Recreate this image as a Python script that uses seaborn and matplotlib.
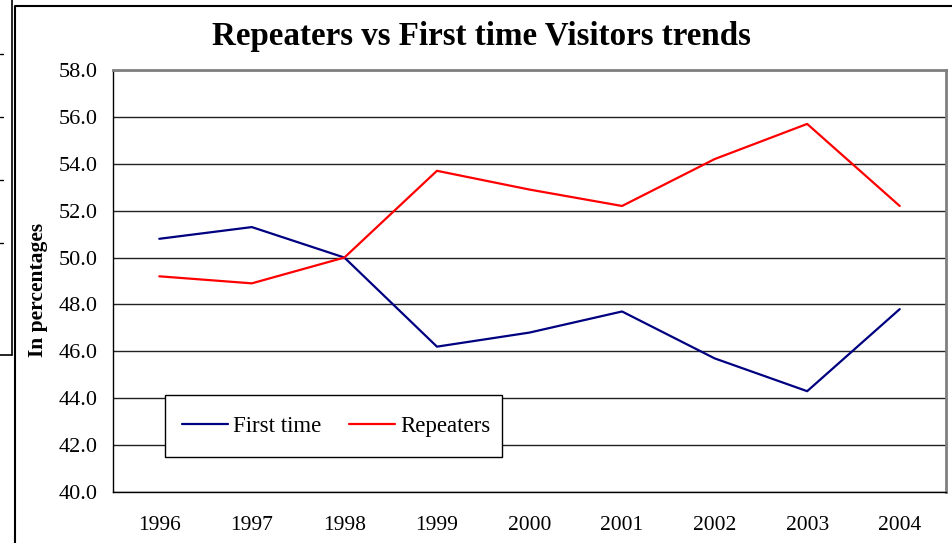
import pandas as pd
import seaborn as sns
import numpy as np
import matplotlib.pyplot as plt
from matplotlib.lines import Line2D
from matplotlib.patches import Rectangle
from matplotlib.ticker import MultipleLocator, FixedLocator

# Values (percentages)
years = ["1996", "1997", "1998", "1999", "2000", "2001", "2002", "2003", "2004"]
first_time = [50.8, 51.3, 50.0, 46.2, 46.8, 47.7, 45.7, 44.3, 47.8]
repeaters = [49.2, 48.9, 50.0, 53.7, 52.9, 52.2, 54.2, 55.7, 52.2]

df = pd.DataFrame({
    "year": years * 2,
    "value": first_time + repeaters,
    "series": ["First time"] * len(years) + ["Repeaters"] * len(years),
})

sns.set_style("white")
plt.rcParams["font.family"] = ["Liberation Serif", "DejaVu Serif"]
plt.rcParams["text.color"] = "black"
plt.rcParams["xtick.color"] = "black"
plt.rcParams["ytick.color"] = "black"
plt.rcParams["axes.labelcolor"] = "black"

W, H = 953, 543
fig = plt.figure(figsize=(W / 100, H / 100), dpi=100)
ax = fig.add_axes([113 / W, 1 - 492 / H, (946 - 113) / W, (492 - 70) / H])

sns.lineplot(data=df, x="year", y="value", hue="series",
             palette={"First time": "#000080", "Repeaters": "#ff0000"},
             linewidth=1.6, ax=ax, sort=False)

ax.set_xlim(-0.5, len(years) - 0.5)
ax.set_ylim(40, 58)
ax.yaxis.set_major_locator(MultipleLocator(2))
ax.yaxis.set_major_formatter(lambda v, p: f"{v:.1f}")
ax.xaxis.set_minor_locator(FixedLocator(np.arange(-0.5, len(years), 1)))
ax.tick_params(axis="x", which="major", length=0, labelsize=15.5, pad=17)
ax.tick_params(axis="x", which="minor", length=6, width=1, direction="out", color="black")
ax.tick_params(axis="y", length=6, width=1, direction="out", color="black", labelsize=16, pad=5)
ax.yaxis.grid(True, color="#222222", linewidth=1)
ax.set_axisbelow(True)

for side in ["left", "bottom"]:
    ax.spines[side].set_color("black")
    ax.spines[side].set_linewidth(1)
for side in ["top", "right"]:
    ax.spines[side].set_color("#808080")
    ax.spines[side].set_linewidth(2)

ax.set_xlabel("")
ax.set_ylabel("In percentages", fontsize=15.5, fontweight="bold")
ax.yaxis.set_label_coords(-0.078, 0.479)

# legend box (white, black edge) drawn separately so its size matches
box = (52 / 833, 35 / 422, 337 / 833, 62 / 422)
ax.add_patch(Rectangle(box[:2], box[2], box[3], transform=ax.transAxes,
                       facecolor="white", edgecolor="black", linewidth=1, zorder=4))
leg = ax.legend(loc="center", bbox_to_anchor=(55 / 833, 35 / 422, 337 / 833, 62 / 422),
                ncol=2, fontsize=16.5, frameon=False, handlelength=2.0,
                handletextpad=0.22, columnspacing=1.22, borderaxespad=0)
leg.set_zorder(5)

fig.text(481 / W, 1 - 37 / H, "Repeaters vs First time Visitors trends",
         ha="center", va="center", fontsize=23.8, fontweight="bold")

# chart border and the cropped neighbour chart on the left
def px_line(xs, ys, **kw):
    fig.add_artist(Line2D([x / W for x in xs], [1 - y / H for y in ys],
                          transform=fig.transFigure, color="black", **kw))

px_line([15, 15, W], [H, 6, 6], linewidth=1.5)
px_line([12, 12], [0, 355], linewidth=1.2)
px_line([0, 12], [355, 355], linewidth=1.2)
for ty in [54, 117, 180, 243]:
    px_line([0, 3], [ty, ty], linewidth=1)

fig.savefig("out.png", dpi=100)
